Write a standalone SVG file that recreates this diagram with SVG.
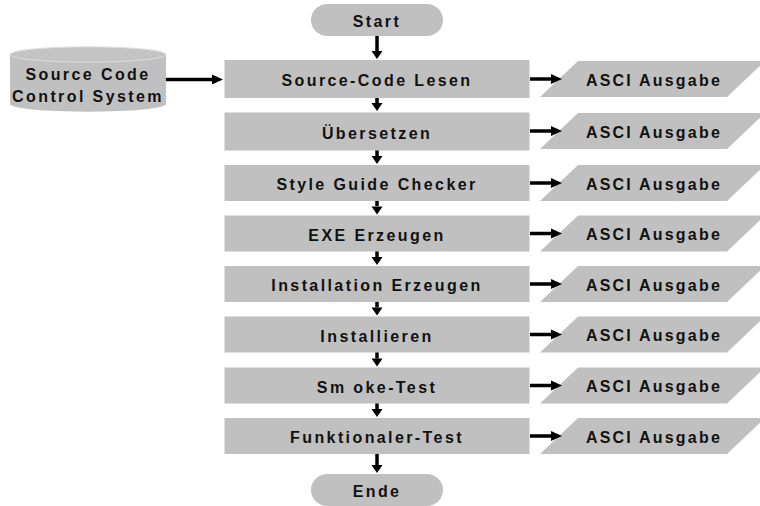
<svg xmlns="http://www.w3.org/2000/svg" xmlns:xlink="http://www.w3.org/1999/xlink" width="760" height="506" viewBox="0 0 760 506">
  <style>
    .shape { fill: #c0c0c0; }
    .label { font-family: "Liberation Sans", Arial, sans-serif; font-weight: bold; font-size: 16px; letter-spacing: 2.4px; fill: #111; text-anchor: middle; }
    .out { letter-spacing: 2.2px; }
    .wire { stroke: #000; stroke-width: 3.5; fill: none; }
    .head { fill: #000; }
  </style>
  <defs>
    <path id="headDown" d="M-5.5,-8 L5.5,-8 L0,0 Z"/>
    <path id="headRight" d="M-11,-5 L0,0 L-11,5 Z"/>
    <path id="para" d="M38,0 L225,0 L187,36 L0,36 Z"/>
  </defs>

  <!-- terminators -->
  <g id="start">
    <rect class="shape" x="311" y="4" width="132" height="32" rx="16"/>
    <text class="label" x="377" y="27">Start</text>
  </g>
  <g id="ende">
    <rect class="shape" x="311" y="474" width="132" height="32" rx="16"/>
    <text class="label" x="377" y="497">Ende</text>
  </g>

  <!-- repository -->
  <g id="sccs">
    <path class="shape" d="M10,54.5 L10,104 A78,7.7 0 0 0 166,104 L166,54.5 Z"/>
    <ellipse cx="88" cy="54.5" rx="78" ry="7.7" fill="#c4c4c4" stroke="#dedede" stroke-width="1"/>
    <text class="label" x="88" y="80">Source Code</text>
    <text class="label" x="88" y="101.5">Control System</text>
  </g>

  <!-- process steps -->
  <g id="step1"><rect class="shape" x="224.5" y="60" width="305" height="38"/><text class="label" x="377" y="86">Source-Code Lesen</text></g>
  <g id="step2"><rect class="shape" x="224.5" y="112.5" width="305" height="38"/><text class="label" x="377" y="138.5">Übersetzen</text></g>
  <g id="step3"><rect class="shape" x="224.5" y="165" width="305" height="36"/><text class="label" x="377" y="190">Style Guide Checker</text></g>
  <g id="step4"><rect class="shape" x="224.5" y="215.5" width="305" height="36"/><text class="label" x="377" y="240.5">EXE Erzeugen</text></g>
  <g id="step5"><rect class="shape" x="224.5" y="266" width="305" height="36"/><text class="label" x="377" y="291">Installation Erzeugen</text></g>
  <g id="step6"><rect class="shape" x="224.5" y="316.5" width="305" height="36"/><text class="label" x="377" y="341.5">Installieren</text></g>
  <g id="step7"><rect class="shape" x="224.5" y="367.5" width="305" height="36"/><text class="label" x="377" y="392.5">Sm oke-Test</text></g>
  <g id="step8"><rect class="shape" x="224.5" y="418" width="305" height="36"/><text class="label" x="377" y="443">Funktionaler-Test</text></g>

  <!-- output documents -->
  <g id="out1"><use xlink:href="#para" class="shape" x="540" y="61"/><text class="label out" x="654" y="86">ASCI Ausgabe</text></g>
  <g id="out2"><use xlink:href="#para" class="shape" x="540" y="113"/><text class="label out" x="654" y="137.5">ASCI Ausgabe</text></g>
  <g id="out3"><use xlink:href="#para" class="shape" x="540" y="165"/><text class="label out" x="654" y="189.5">ASCI Ausgabe</text></g>
  <g id="out4"><use xlink:href="#para" class="shape" x="540" y="215.5"/><text class="label out" x="654" y="240">ASCI Ausgabe</text></g>
  <g id="out5"><use xlink:href="#para" class="shape" x="540" y="266"/><text class="label out" x="654" y="290.5">ASCI Ausgabe</text></g>
  <g id="out6"><use xlink:href="#para" class="shape" x="540" y="316.5"/><text class="label out" x="654" y="341">ASCI Ausgabe</text></g>
  <g id="out7"><use xlink:href="#para" class="shape" x="540" y="367.5"/><text class="label out" x="654" y="392">ASCI Ausgabe</text></g>
  <g id="out8"><use xlink:href="#para" class="shape" x="540" y="418"/><text class="label out" x="654" y="442.5">ASCI Ausgabe</text></g>

  <!-- connectors -->
  <g id="connectors">
    <!-- main flow -->
    <line class="wire" x1="377" y1="36" x2="377" y2="51"/>
    <use xlink:href="#headDown" class="head" x="377" y="59"/>
    <line class="wire" x1="377" y1="98" x2="377" y2="103"/>
    <use xlink:href="#headDown" class="head" x="377" y="111"/>
    <line class="wire" x1="377" y1="150.5" x2="377" y2="156"/>
    <use xlink:href="#headDown" class="head" x="377" y="164"/>
    <line class="wire" x1="377" y1="201" x2="377" y2="206"/>
    <use xlink:href="#headDown" class="head" x="377" y="214.5"/>
    <line class="wire" x1="377" y1="251.5" x2="377" y2="257"/>
    <use xlink:href="#headDown" class="head" x="377" y="265"/>
    <line class="wire" x1="377" y1="302" x2="377" y2="307.5"/>
    <use xlink:href="#headDown" class="head" x="377" y="315.5"/>
    <line class="wire" x1="377" y1="352.5" x2="377" y2="358.5"/>
    <use xlink:href="#headDown" class="head" x="377" y="366.5"/>
    <line class="wire" x1="377" y1="403.5" x2="377" y2="409"/>
    <use xlink:href="#headDown" class="head" x="377" y="417"/>
    <line class="wire" x1="377" y1="454" x2="377" y2="466"/>
    <use xlink:href="#headDown" class="head" x="377" y="473"/>

    <!-- repository input -->
    <line class="wire" x1="166" y1="79.5" x2="214" y2="79.5"/>
    <use xlink:href="#headRight" class="head" x="223" y="79.5"/>

    <!-- outputs -->
    <line class="wire" x1="530" y1="79" x2="552" y2="79"/>
    <use xlink:href="#headRight" class="head" x="562" y="79"/>
    <line class="wire" x1="530" y1="131" x2="552" y2="131"/>
    <use xlink:href="#headRight" class="head" x="562" y="131"/>
    <line class="wire" x1="530" y1="183" x2="552" y2="183"/>
    <use xlink:href="#headRight" class="head" x="562" y="183"/>
    <line class="wire" x1="530" y1="233.5" x2="552" y2="233.5"/>
    <use xlink:href="#headRight" class="head" x="562" y="233.5"/>
    <line class="wire" x1="530" y1="284" x2="552" y2="284"/>
    <use xlink:href="#headRight" class="head" x="562" y="284"/>
    <line class="wire" x1="530" y1="334.5" x2="552" y2="334.5"/>
    <use xlink:href="#headRight" class="head" x="562" y="334.5"/>
    <line class="wire" x1="530" y1="385.5" x2="552" y2="385.5"/>
    <use xlink:href="#headRight" class="head" x="562" y="385.5"/>
    <line class="wire" x1="530" y1="436" x2="552" y2="436"/>
    <use xlink:href="#headRight" class="head" x="562" y="436"/>
  </g>
</svg>
